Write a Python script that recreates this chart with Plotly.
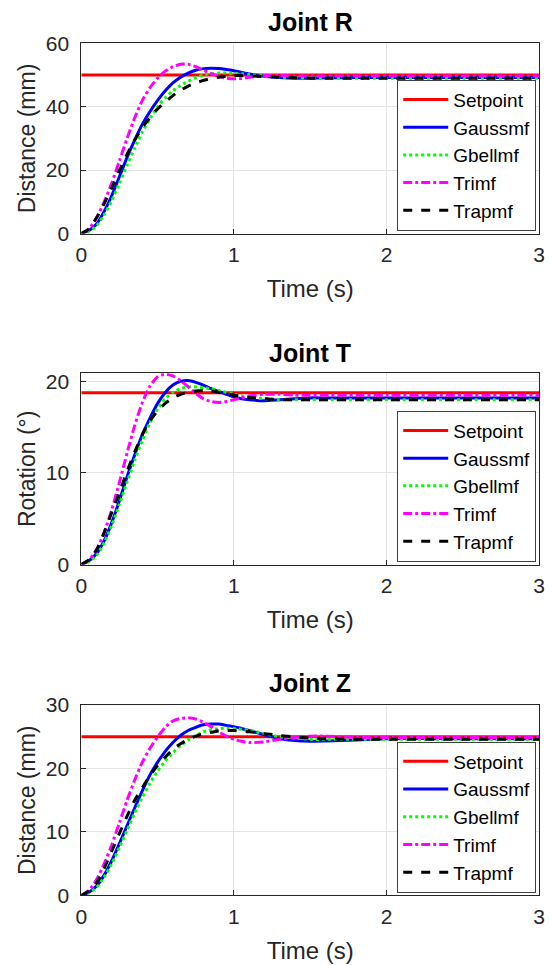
import plotly.graph_objects as go

# ---------------- data ----------------
t = [0, 0.05, 0.1, 0.15, 0.2, 0.25, 0.3, 0.35, 0.4, 0.45, 0.5, 0.55, 0.6, 0.65, 0.7, 0.75,
     0.8, 0.85, 0.9, 0.95, 1.0, 1.05, 1.1, 1.2, 1.3, 1.4, 1.5, 1.6, 1.8, 2.0, 2.5, 3.0]

# Joint R (mm)
r_set = [50] * len(t)
r_gauss = [0, 1.0, 3.0, 7.0, 12.0, 18.0, 24.0, 29.5, 34.5, 38.5, 42.0, 45.0, 47.5, 49.3, 50.6, 51.5,
           52.0, 52.1, 52.0, 51.7, 51.3, 50.8, 50.3, 49.6, 49.2, 49.0, 49.0, 49.1, 49.2, 49.2, 49.2, 49.2]
r_gbell = [0, 0.8, 2.5, 6.0, 10.5, 16.0, 21.5, 27.0, 32.0, 36.3, 40.0, 42.8, 45.0, 46.7, 48.0, 49.2,
           50.0, 50.4, 50.6, 50.6, 50.5, 50.4, 50.2, 49.7, 49.3, 49.1, 49.0, 49.0, 49.0, 49.0, 49.0, 49.0]
r_tri = [0, 1.5, 5.0, 10.0, 16.0, 23.0, 30.0, 36.5, 42.0, 46.0, 49.0, 51.2, 52.6, 53.4, 53.4, 52.6,
         51.5, 50.4, 49.5, 49.0, 48.8, 48.9, 49.3, 49.8, 49.8, 49.7, 49.7, 49.7, 49.7, 49.7, 49.7, 49.7]
r_trap = [0, 1.5, 5.0, 9.5, 14.5, 20.0, 25.0, 29.5, 33.5, 36.5, 39.3, 41.5, 43.5, 45.2, 46.5, 47.5,
          48.3, 48.9, 49.3, 49.6, 49.8, 49.8, 49.7, 49.5, 49.3, 49.1, 49.0, 49.0, 49.0, 49.0, 49.0, 49.0]

# Joint T (deg)
t_set = [18.75] * len(t)
t_gauss = [0, 0.4, 1.2, 2.6, 4.6, 7.0, 9.6, 12.0, 14.2, 16.0, 17.6, 18.8, 19.6, 20.0, 20.1, 19.9,
           19.6, 19.2, 18.9, 18.6, 18.3, 18.1, 18.0, 17.9, 18.0, 18.1, 18.2, 18.2, 18.2, 18.2, 18.2, 18.2]
t_gbell = [0, 0.3, 1.0, 2.4, 4.3, 6.6, 9.0, 11.4, 13.6, 15.5, 17.0, 18.1, 18.8, 19.2, 19.4, 19.4,
           19.3, 19.2, 19.0, 18.8, 18.6, 18.4, 18.3, 18.1, 18.0, 18.0, 18.0, 18.0, 18.0, 18.0, 18.0, 18.0]
t_tri = [0, 0.5, 1.6, 3.5, 6.0, 9.0, 12.2, 15.2, 17.7, 19.5, 20.5, 20.8, 20.6, 20.1, 19.4, 18.7,
         18.1, 17.8, 17.7, 17.8, 18.0, 18.2, 18.4, 18.6, 18.6, 18.5, 18.5, 18.5, 18.5, 18.5, 18.5, 18.5]
t_trap = [0, 0.5, 1.6, 3.5, 5.7, 7.9, 10.2, 12.3, 14.2, 15.7, 16.8, 17.6, 18.2, 18.6, 18.8, 18.95,
          19.0, 18.95, 18.8, 18.65, 18.5, 18.35, 18.25, 18.1, 18.0, 18.0, 18.0, 18.0, 18.0, 18.0, 18.0, 18.0]

# Joint Z (mm)
z_set = [25] * len(t)
z_gauss = [0, 0.5, 1.5, 3.2, 5.5, 8.2, 11.0, 13.8, 16.5, 19.0, 21.0, 22.7, 24.1, 25.2, 26.0, 26.5,
           26.9, 27.0, 27.0, 26.8, 26.6, 26.3, 26.0, 25.3, 24.7, 24.4, 24.3, 24.35, 24.5, 24.7, 24.7, 24.7]
z_gbell = [0, 0.4, 1.3, 2.9, 5.0, 7.6, 10.3, 13.0, 15.5, 17.7, 19.6, 21.2, 22.5, 23.6, 24.5, 25.2,
           25.8, 26.1, 26.3, 26.35, 26.3, 26.2, 26.0, 25.5, 25.0, 24.8, 24.6, 24.6, 24.6, 24.6, 24.6, 24.6]
z_tri = [0, 0.8, 2.5, 5.0, 8.0, 11.5, 15.0, 18.2, 21.0, 23.2, 25.0, 26.5, 27.5, 27.9, 28.0, 27.8,
         27.3, 26.6, 25.8, 25.1, 24.6, 24.3, 24.1, 24.2, 24.6, 24.9, 25.1, 25.1, 24.9, 24.9, 24.9, 24.9]
z_trap = [0, 0.7, 2.0, 4.3, 7.0, 9.8, 12.5, 15.0, 17.0, 18.9, 20.5, 21.8, 23.0, 23.9, 24.6, 25.1,
          25.5, 25.7, 25.9, 26.0, 26.0, 25.9, 25.8, 25.5, 25.2, 25.0, 24.8, 24.7, 24.6, 24.6, 24.6, 24.6]

names = ["Setpoint", "Gaussmf", "Gbellmf", "Trimf", "Trapmf"]
colors = ["#FF0000", "#0000FF", "#00FF00", "#FF00FF", "#000000"]
dashes = ["solid", "solid", "dot", "dashdot", "dash"]

panels = [
    ("Joint R", "Distance (mm)", [r_set, r_gauss, r_gbell, r_tri, r_trap], [0, 60], [0, 20, 40, 60]),
    ("Joint T", "Rotation (°)", [t_set, t_gauss, t_gbell, t_tri, t_trap], [0, 20.9], [0, 10, 20]),
    ("Joint Z", "Distance (mm)", [z_set, z_gauss, z_gbell, z_tri, z_trap], [0, 30], [0, 10, 20, 30]),
]

# ---------------- layout geometry ----------------
W, H = 552, 965
x0, x1 = 77, 545
boxes = [(32, 227), (370, 566), (710, 905)]       # top, bottom px
title_y = [10, 349, 687]
legend_inset = 3

FONT = "Liberation Sans, Arial, sans-serif"
AX = "#262626"

fig = go.Figure()
layout = dict(
    width=W, height=H, margin=dict(l=0, r=0, t=0, b=0),
    paper_bgcolor="white", plot_bgcolor="white",
    font=dict(family=FONT, color=AX), annotations=[],
)

for i, (title, ytitle, series, yr, yt) in enumerate(panels):
    n = "" if i == 0 else str(i + 1)
    leg = "legend" + n
    for k in range(5):
        fig.add_trace(go.Scatter(
            x=t, y=series[k], mode="lines", name=names[k],
            line=dict(color=colors[k], width=3, dash=dashes[k], shape="spline", smoothing=0.6),
            xaxis="x" + n, yaxis="y" + n, legend=leg, showlegend=True,
        ))
    top, bot = boxes[i]
    layout["xaxis" + n] = dict(
        domain=[x0 / W, x1 / W], range=[0, 3], tickvals=[0, 1, 2, 3],
        anchor="y" + n, showline=True, linecolor=AX, linewidth=1, mirror=True,
        ticks="inside", ticklen=5, tickcolor=AX, showgrid=True, gridcolor="#E3E3E3",
        tickfont=dict(size=21, color=AX, family=FONT), zeroline=False, ticklabelstandoff=2,
        title=dict(text="Time (s)", font=dict(size=24, color=AX, family=FONT), standoff=15),
    )
    layout["yaxis" + n] = dict(
        domain=[1 - bot / H, 1 - top / H], range=yr, tickvals=yt,
        anchor="x" + n, showline=True, linecolor=AX, linewidth=1, mirror=True,
        ticks="inside", ticklen=5, tickcolor=AX, showgrid=True, gridcolor="#E3E3E3",
        tickfont=dict(size=21, color=AX, family=FONT), zeroline=False, ticklabelstandoff=7,
        title=dict(text=ytitle, font=dict(size=23, color=AX, family=FONT), standoff=3),
    )
    layout[leg] = dict(
        x=(x1 - legend_inset) / W, y=1 - (bot - legend_inset) / H, xanchor="right", yanchor="bottom",
        bgcolor="white", bordercolor="#404040", borderwidth=1,
        font=dict(size=19, color="black", family=FONT), itemwidth=45,
        tracegroupgap=0,
    )
    layout["annotations"].append(dict(
        text="<b>%s</b>" % title, x=(x0 + x1) / 2 / W, y=1 - title_y[i] / H,
        xref="paper", yref="paper", xanchor="center", yanchor="middle", showarrow=False,
        font=dict(size=25, color="black", family=FONT),
    ))

fig.update_layout(**layout)
fig.write_html("out.html")
